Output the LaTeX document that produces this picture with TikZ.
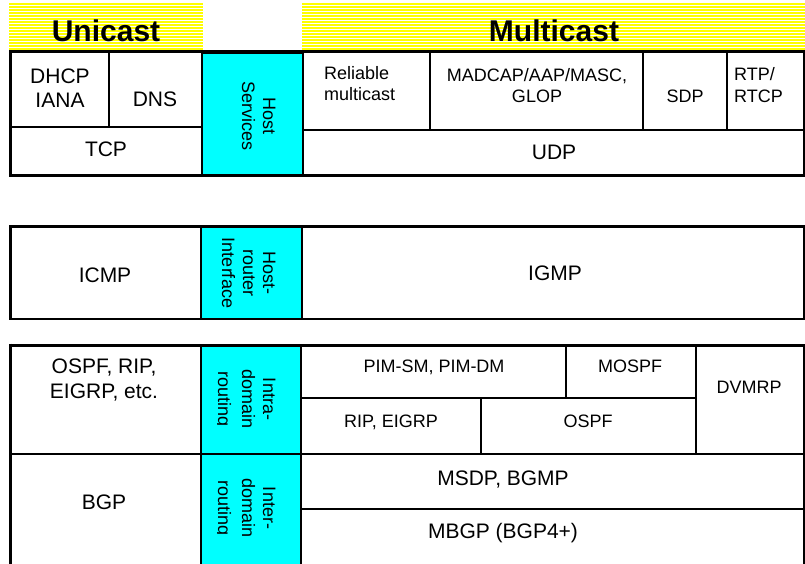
\documentclass[tikz,border=0pt]{standalone}
\usepackage{fontspec}
\setmainfont{Liberation Sans}
\definecolor{boxcyan}{RGB}{0,255,255}
\definecolor{baryellow}{RGB}{255,255,0}
\begin{document}
\begin{tikzpicture}[x=1pt,y=-1pt,
  thinline/.style={line width=1.3pt},
  thickline/.style={line width=3pt},
  midline/.style={line width=2pt},
  cyanbox/.style={fill=boxcyan, draw=black, line width=2pt},
  big/.style={font=\fontsize{21}{24}\selectfont, inner sep=0pt, anchor=base},
  small/.style={font=\fontsize{18}{21}\selectfont, inner sep=0pt, anchor=base},
  bigw/.style={big, anchor=base west},
  smallw/.style={small, anchor=base west},
  vtext/.style={small, rotate=-90},
  titletext/.style={font=\fontsize{30}{34}\selectfont\bfseries, inner sep=0pt, anchor=base}]
\useasboundingbox (0,0) rectangle (805,564);

% ---- title bars (striped yellow)
\fill[baryellow] (9,3) rectangle (203,50);
\fill[baryellow] (302,3) rectangle (805,50);
\foreach \yy in {5,8,...,47} {
  \draw[white, line width=0.9pt] (9,\yy) -- (203,\yy);
  \draw[white, line width=0.9pt] (302,\yy) -- (805,\yy);
}
\node[titletext] (unicast) at (106,42) {Unicast};
\node[titletext] (multicast) at (554,42) {Multicast};

% ---- top block
\draw[cyanbox] (202,53) rectangle (303,175);
\draw[thinline] (109,53) -- (109,127);
\draw[thinline] (12,127) -- (202,127);
\draw[thinline] (303,130) -- (804,130);
\draw[thinline] (430,53) -- (430,130);
\draw[thinline] (643,53) -- (643,130);
\draw[thinline] (727,53) -- (727,130);
\draw[thinline] (804,53) -- (804,175);
\draw[thickline] (9,52) -- (805,52);
\draw[thickline] (10.5,50.5) -- (10.5,177);
\draw[thickline] (9,175.5) -- (805,175.5);

\node[big] (dhcp) at (60,84) {DHCP};
\node[big] (iana) at (60,108) {IANA};
\node[big] (dns) at (155,107) {DNS};
\node[big] (tcp) at (106,157) {TCP};
\node[vtext] (host) at (263,116) {Host};
\node[vtext] (services) at (242,116) {Services};
\node[smallw] (reliable) at (324,80) {Reliable};
\node[smallw] (rmulticast) at (324,101) {multicast};
\node[small] (madcap) at (537,82) {MADCAP/AAP/MASC,};
\node[small] (glop) at (537,103) {GLOP};
\node[small] (sdp) at (685,103) {SDP};
\node[smallw] (rtp) at (734,81) {RTP/};
\node[smallw] (rtcp) at (734,103) {RTCP};
\node[big] (udp) at (554,160) {UDP};

% ---- middle block
\draw[cyanbox] (201,226) rectangle (302,319);
\draw[thinline] (804,226) -- (804,319);
\draw[thickline] (9,226.5) -- (805,226.5);
\draw[thickline] (10.5,225) -- (10.5,319);
\draw[midline] (9,318.5) -- (805,318.5);

\node[big] (icmp) at (105,282) {ICMP};
\node[vtext] (hrhost) at (263,273) {Host-};
\node[vtext] (hrrouter) at (243,273) {router};
\node[vtext] (hrinterface) at (222,273) {Interface};
\node[big] (igmp) at (555,280) {IGMP};

% ---- bottom block
\draw[cyanbox] (201,345) rectangle (301,454);
\draw[cyanbox] (201,454) rectangle (301,570);
\draw[thinline] (301,398) -- (696,398);
\draw[thinline] (566,345) -- (566,398);
\draw[thinline] (696,345) -- (696,454);
\draw[thinline] (481,398) -- (481,454);
\draw[thinline] (301,454) -- (804,454);
\draw[thinline] (301,509) -- (804,509);
\draw[thinline] (804,345) -- (804,564);
\draw[thickline] (9,345) -- (805,345);
\draw[thickline] (10.5,343.5) -- (10.5,566);
\draw[midline] (9,454) -- (201,454);

\node[big] (ospfrip) at (104,373) {OSPF, RIP,};
\node[big] (eigrpetc) at (104,398) {EIGRP, etc.};
\node[vtext] (intra) at (263,399) {Intra-};
\node[vtext] (intradomain) at (242,399) {domain};
\node[small] (pim) at (434,372) {PIM-SM, PIM-DM};
\node[small] (mospf) at (630,372) {MOSPF};
\node[small] (dvmrp) at (749,393) {DVMRP};
\node[small] (ripeigrp) at (391,427) {RIP, EIGRP};
\node[small] (ospf) at (588,427) {OSPF};
\node[big] (bgp) at (104,509) {BGP};
\node[vtext] (inter) at (263,508) {Inter-};
\node[vtext] (interdomain) at (242,508) {domain};
\node[big] (msdp) at (503,485) {MSDP, BGMP};
\node[big] (mbgp) at (503,538) {MBGP (BGP4+)};

\begin{scope}
  \clip (217.5,346) rectangle (300,563);
  \node[vtext] (intrarouting) at (218,399) {routing};
  \node[vtext] (interrouting) at (218,508) {routing};
\end{scope}
\end{tikzpicture}
\end{document}
